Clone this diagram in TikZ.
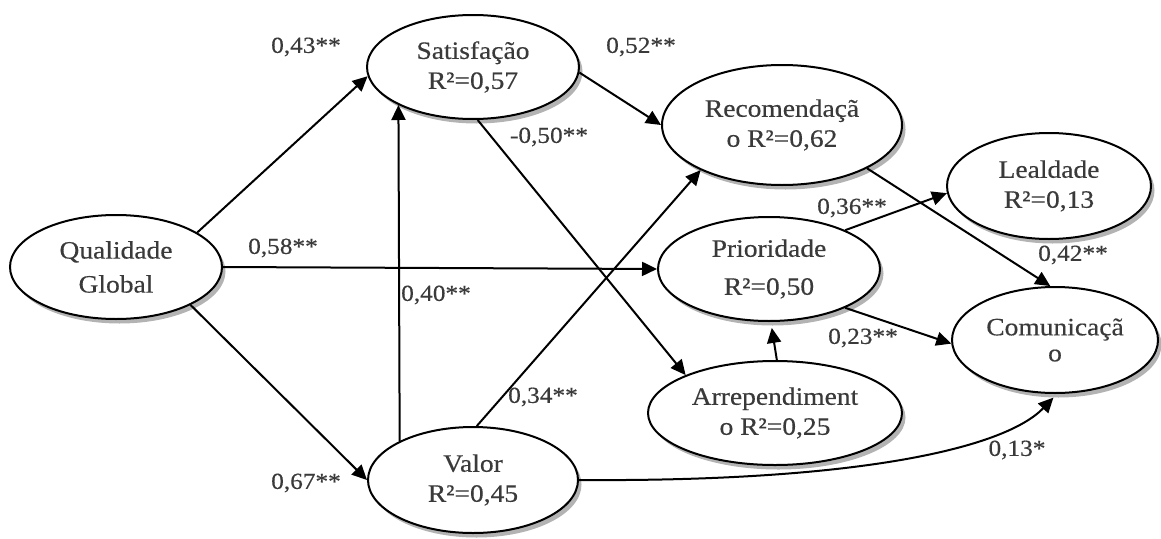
\documentclass[tikz,border=0pt]{standalone}
\usepackage{fontspec}
\setmainfont{Liberation Serif}[FakeStretch=1.1,FakeBold=0.4]
\usetikzlibrary{arrows.meta,shapes.geometric,shadows}
\definecolor{txt}{HTML}{3A3A3A}
\pgfdeclareradialshading{lvshade}{\pgfpoint{-6bp}{6bp}}{color(0bp)=(white); color(30bp)=(white); color(58bp)=(gray!38); color(70bp)=(gray!38)}
\begin{document}
\begin{tikzpicture}[x=1pt,y=-1pt,
  lv/.style={ellipse, draw=black, line width=2pt, inner sep=0pt, align=center,
    text=txt, font=\fontsize{25}{30}\selectfont,
    shading=lvshade,
    drop shadow={shadow xshift=3.5pt, shadow yshift=-4.5pt, opacity=0.6}},
  coef/.style={text=txt, font=\fontsize{23}{26}\selectfont, inner sep=0pt},
  conn/.style={line width=2pt, -{Triangle[length=15pt,width=14pt]}}]
\useasboundingbox (0,0) rectangle (1161,538);

\node[lv, minimum width=212pt, minimum height=104pt] (qg)  at (116,267) {Qualidade\\[4pt]Global};
\node[lv, minimum width=212pt, minimum height=104pt] (sat) at (473,67)  {Satisfação\\R²=0,57};
\node[lv, minimum width=240pt, minimum height=120pt] (rec) at (782,125) {Recomendaçã\\o R²=0,62};
\node[lv, minimum width=204pt, minimum height=106pt] (lea) at (1049,186) {Lealdade\\R²=0,13};
\node[lv, minimum width=222pt, minimum height=104pt] (pri) at (769,269) {Prioridade\\[8pt]R²=0,50};
\node[lv, minimum width=206pt, minimum height=106pt] (com) at (1055,340) {Comunicaçã\\[-4pt]o};
\node[lv, minimum width=254pt, minimum height=104pt] (arr) at (775,413) {Arrependiment\\o R²=0,25};
\node[lv, minimum width=210pt, minimum height=106pt] (val) at (473,480) {Valor\\R²=0,45};

\draw[conn] (qg.23) -- (sat.185);
\draw[conn] (qg.333) -- (val.west);
\draw[conn] (qg.east) -- (pri.west);
\draw[conn] (val.152.5) -- (sat.207);
\draw[conn] (sat.357) -- (rec.west);
\draw[conn] (sat.275) -- (arr.157);
\draw[conn] (val.86) -- (rec.209);
\draw[conn] (rec.333) -- (com.95);
\draw[conn] (pri.27) -- (lea.184);
\draw[conn] (pri.333) -- (com.182);
\draw[conn, shorten >=6pt] (arr.88) -- (pri.272);
\draw[conn, shorten >=5pt] (val.east) .. controls (860,482) and (1005,448) .. (com.272);

\node[coef] (c43) at (306,47)  {0,43**};
\node[coef] (c52) at (641,47)  {0,52**};
\node[coef] (c50) at (549,137) {-0,50**};
\node[coef] (c58) at (283,248) {0,58**};
\node[coef] (c40) at (436,295) {0,40**};
\node[coef] (c36) at (852,208) {0,36**};
\node[coef] (c42) at (1073,255) {0,42**};
\node[coef] (c23) at (863,338) {0,23**};
\node[coef] (c34) at (543,397) {0,34**};
\node[coef] (c67) at (306,483) {0,67**};
\node[coef] (c13) at (1017,450) {0,13*};
\end{tikzpicture}
\end{document}
